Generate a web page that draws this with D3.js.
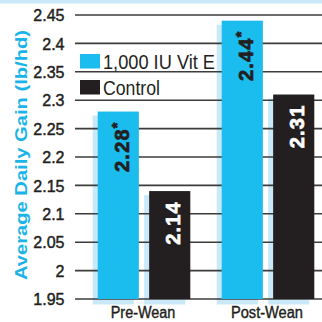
<!DOCTYPE html>
<html>
<head>
<meta charset="utf-8">
<script src="https://cdn.jsdelivr.net/npm/d3@7"></script>
<style>
  html, body { margin: 0; padding: 0; background: #fff; }
  svg { display: block; }
</style>
</head>
<body>
<svg id="chart" width="322" height="322"></svg>
<script>
// Average daily gain by period and treatment
const periods = ["Pre-Wean", "Post-Wean"];
const series = ["1,000 IU Vit E", "Control"];
const vitE = [2.28, 2.44];
const control = [2.14, 2.31];
const valueLabels = [["2.28", "2.14"], ["2.44", "2.31"]];
const significant = [[true, false], [true, false]];
const yTicks = [1.95, 2, 2.05, 2.1, 2.15, 2.2, 2.25, 2.3, 2.35, 2.4, 2.45];

const BLUE = "#1bbcee";
const DARK = "#231f20";
const PALE = "#c9e9f8";
const colors = [BLUE, DARK];
const labelColors = [DARK, "#ffffff"];

const svg = d3.select("#chart");
const W = 322, H = 322;

const y = d3.scaleLinear().domain([1.95, 2.45]).range([299, 15]);
const x0 = d3.scaleBand().domain(periods).range([97.7, 314.3]).paddingInner(0.253).paddingOuter(0);
const x1 = d3.scaleBand().domain(series).range([0, x0.bandwidth()]).paddingInner(0.2).paddingOuter(0);

const rows = periods.map((p, i) => ({
  period: p,
  values: [vitE[i], control[i]].map((v, j) => ({
    period: p, series: series[j], value: v, j,
    label: valueLabels[i][j], star: significant[i][j]
  }))
}));
const flat = rows.flatMap(r => r.values);

// pale band along the top edge
svg.append("rect").attr("x", 0).attr("y", 0).attr("width", W).attr("height", 3.5).attr("fill", PALE);

// pale drop shadows behind the bars
svg.append("g").selectAll("rect").data(flat).join("rect")
  .attr("x", d => x0(d.period) + x1(d.series) - 5)
  .attr("y", d => y(d.value) + 4)
  .attr("width", x1.bandwidth())
  .attr("height", d => y(1.95) - y(d.value) + 1.5)
  .attr("fill", PALE);

// gridlines with tick labels
const yAxis = d3.axisLeft(y).tickValues(yTicks).tickFormat(d3.format("")).tickSize(0).tickPadding(0);
const ga = svg.append("g").attr("transform", "translate(64.5,0)").call(yAxis);
ga.select(".domain").remove();
ga.selectAll("text")
  .attr("font-family", "'Liberation Sans Narrow', 'Liberation Sans', sans-serif")
  .attr("font-size", 16)
  .attr("fill", DARK)
  .attr("stroke", DARK)
  .attr("stroke-width", 0.45)
  .attr("dy", "0.36em");
svg.append("g").selectAll("line").data(yTicks).join("line")
  .attr("x1", 75).attr("x2", W)
  .attr("y1", d => y(d)).attr("y2", d => y(d))
  .attr("stroke", "#3d3b3c").attr("stroke-width", 1.6);

// bars
svg.append("g").selectAll("rect").data(flat).join("rect")
  .attr("x", d => x0(d.period) + x1(d.series))
  .attr("y", d => y(d.value))
  .attr("width", x1.bandwidth())
  .attr("height", d => y(1.95) - y(d.value))
  .attr("fill", d => colors[d.j]);

// vertical value labels inside the bars
const lab = svg.append("g").selectAll("text").data(flat).join("text")
  .attr("transform", d => {
    const cx = x0(d.period) + x1(d.series) + x1.bandwidth() / 2 + 10.5;
    const ty = y(d.value) + 10;
    return `translate(${cx},${ty}) rotate(-90)`;
  })
  .attr("text-anchor", "end")
  .attr("font-family", "'Liberation Sans', Arial, sans-serif")
  .attr("font-weight", "bold")
  .attr("font-size", 20)
  .attr("letter-spacing", 1.2)
  .attr("fill", d => labelColors[d.j])
  .attr("stroke", d => labelColors[d.j])
  .attr("stroke-width", 0.7);
lab.append("tspan").text(d => d.label);
lab.filter(d => d.star).append("tspan")
  .attr("font-size", 14).attr("dy", -7).text("*");

// legend
const legend = svg.append("g");
series.forEach((s, j) => {
  const ly = [54, 80][j];
  legend.append("rect").attr("x", 80).attr("y", ly).attr("width", 20).attr("height", 14.5).attr("fill", colors[j]);
  legend.append("text")
    .attr("x", 103).attr("y", ly + 14.5)
    .attr("font-family", "'Liberation Sans Narrow', 'Liberation Sans', sans-serif")
    .attr("font-size", 20)
    .attr("fill", DARK)
    .attr("textLength", [112, 57][j])
    .attr("lengthAdjust", "spacingAndGlyphs")
    .text(s);
});

// category labels
svg.append("g").selectAll("text").data(periods).join("text")
  .attr("x", d => x0(d) + x0.bandwidth() / 2 - 1)
  .attr("y", 318)
  .attr("text-anchor", "middle")
  .attr("font-family", "'Liberation Sans', Arial, sans-serif")
  .attr("font-size", 16)
  .attr("fill", DARK)
  .attr("stroke", DARK)
  .attr("stroke-width", 0.4)
  .attr("textLength", (d, i) => [64.5, 72][i])
  .attr("lengthAdjust", "spacingAndGlyphs")
  .text(d => d);

// y axis title
svg.append("text")
  .attr("transform", "translate(26.5,155) rotate(-90)")
  .attr("text-anchor", "middle")
  .attr("font-family", "'Liberation Sans', Arial, sans-serif")
  .attr("font-weight", "bold")
  .attr("font-size", 17)
  .attr("fill", "#1ab4e8")
  .attr("textLength", 250)
  .attr("lengthAdjust", "spacingAndGlyphs")
  .text("Average Daily Gain (lb/hd)");
</script>
</body>
</html>
